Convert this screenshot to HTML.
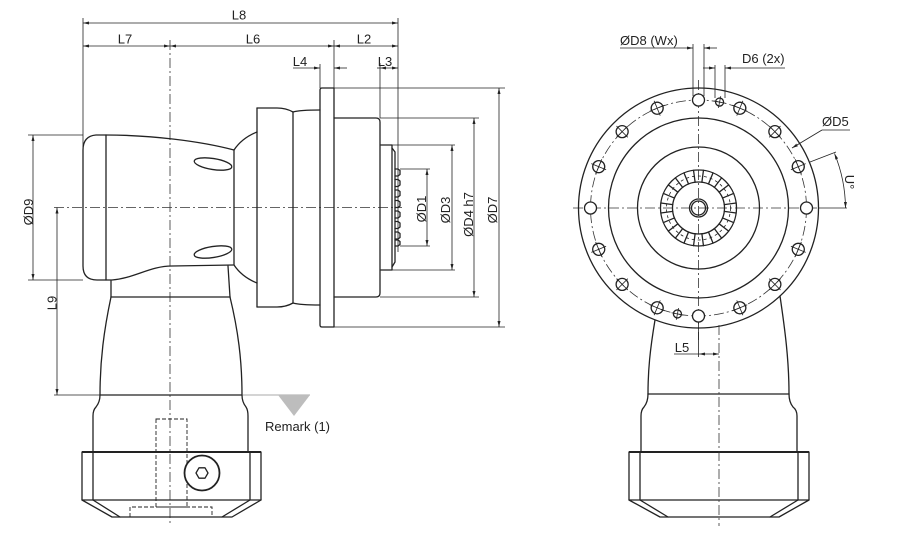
<!DOCTYPE html>
<html><head><meta charset="utf-8"><style>
html,body{margin:0;padding:0;background:#fff;}
svg{display:block;}
text{font-family:"Liberation Sans",Arial,sans-serif;font-size:13px;fill:#222;}
.o{fill:none;stroke:#222;stroke-width:1.3;stroke-linejoin:round;stroke-linecap:round;}
.t{fill:none;stroke:#222;stroke-width:0.8;}
.c{fill:none;stroke:#333;stroke-width:0.8;stroke-dasharray:10 3 2 3;}
.d{fill:none;stroke:#222;stroke-width:0.9;stroke-dasharray:4 2;}
.a{marker-start:url(#ar);marker-end:url(#ar);}
.e{marker-end:url(#ar);}
</style></head><body>
<svg width="900" height="538" viewBox="0 0 900 538" xmlns="http://www.w3.org/2000/svg">
<defs>
<marker id="ar" viewBox="0 0 6 3" refX="6" refY="1.5" markerWidth="6" markerHeight="3" markerUnits="userSpaceOnUse" orient="auto-start-reverse"><path d="M0,0 L6,1.5 L0,3 z" fill="#222"/></marker>
</defs>
<rect width="900" height="538" fill="#fff"/>

<!-- ===== LEFT VIEW ===== -->
<!-- dimension lines top -->
<line class="t a" x1="83" y1="23" x2="398" y2="23"/>
<text x="239" y="19.5" text-anchor="middle">L8</text>
<line class="t a" x1="83" y1="46" x2="170" y2="46"/>
<line class="t a" x1="170" y1="46" x2="334" y2="46"/>
<line class="t a" x1="334" y1="46" x2="398" y2="46"/>
<text x="125" y="43.5" text-anchor="middle">L7</text>
<text x="253" y="43.5" text-anchor="middle">L6</text>
<text x="364" y="43.5" text-anchor="middle">L2</text>
<line class="t e" x1="293" y1="68" x2="320" y2="68"/>
<line class="t e" x1="347" y1="68" x2="334" y2="68"/>
<text x="300" y="66" text-anchor="middle">L4</text>
<line class="t" x1="377" y1="68" x2="380" y2="68"/>
<line class="t a" x1="380" y1="68" x2="398" y2="68"/>
<text x="385" y="66" text-anchor="middle">L3</text>
<!-- extension lines -->
<line class="t" x1="83" y1="18" x2="83" y2="150"/>
<line class="t" x1="398" y1="18" x2="398" y2="252"/>
<line class="t" x1="334" y1="40" x2="334" y2="88"/>
<line class="t" x1="320" y1="64" x2="320" y2="88"/>
<line class="t" x1="380" y1="63" x2="380" y2="118"/>

<!-- centerlines -->
<line class="c" x1="54" y1="207.5" x2="402" y2="207.5"/>
<line class="c" x1="170" y1="40" x2="170" y2="524"/>

<!-- left body -->
<path class="o" d="M106,135 L96,135 Q83,136 83,150 L83,266 Q83,280 97,280 L112,280 C135,278 150,266 172,266 L233,265"/>
<path class="o" d="M106,135 C150,135 200,141 234,150"/>
<line class="o" x1="106" y1="135" x2="106" y2="280"/>
<line class="o" x1="234" y1="150" x2="234" y2="265"/>
<path class="o" d="M234,150 Q242,138 257,132"/>
<path class="o" d="M234,265 Q242,277 257,283"/>
<ellipse class="o" cx="213" cy="164" rx="19" ry="5.5" transform="rotate(9 213 164)"/>
<ellipse class="o" cx="213" cy="252" rx="19" ry="5.5" transform="rotate(-9 213 252)"/>
<!-- section 257-320 -->
<line class="o" x1="257" y1="108" x2="257" y2="307"/>
<path class="o" d="M257,108 L277,108 Q286,108 293,112 Q300,110 320,110"/>
<path class="o" d="M257,307 L277,307 Q286,307 293,303 Q300,305 320,305"/>
<line class="o" x1="293" y1="112" x2="293" y2="303"/>
<!-- flange -->
<path class="o" d="M322,88 L334,88 L334,327 L322,327 Q320,327 320,325 L320,90 Q320,88 322,88 Z"/>
<line class="t" x1="334" y1="88" x2="505" y2="88"/>
<line class="t" x1="334" y1="327" x2="505" y2="327"/>
<!-- part 334-380 -->
<path class="o" d="M334,118 L376,118 Q380,118 380,122 L380,293 Q380,297 376,297 L334,297"/>
<line class="t" x1="380" y1="118" x2="479" y2="118"/>
<line class="t" x1="380" y1="297" x2="479" y2="297"/>
<!-- pilot -->
<path class="o" d="M381,145 L392,145 L392,270 L381,270"/>
<path class="o" d="M392,148 L395,152 L395,262 L392,267"/>
<line class="t" x1="392" y1="145" x2="455" y2="145"/>
<line class="t" x1="392" y1="270" x2="455" y2="270"/>
<!-- teeth -->
<path class="o" stroke-width="1" d="M395,169 h3 l2,1.5 v4 l-2,1.5 h-3 M395,179.5 h3 l2,1.5 v4 l-2,1.5 h-3 M395,190 h3 l2,1.5 v4 l-2,1.5 h-3 M395,200.5 h3 l2,1.5 v4 l-2,1.5 h-3 M395,211 h3 l2,1.5 v4 l-2,1.5 h-3 M395,221.5 h3 l2,1.5 v4 l-2,1.5 h-3 M395,232 h3 l2,1.5 v4 l-2,1.5 h-3 M395,240 h3 l2,1.5 v3 l-2,1.5 h-3"/>
<line class="t" x1="400" y1="169" x2="430" y2="169"/>
<line class="t" x1="400" y1="246" x2="430" y2="246"/>
<!-- diameter dims -->
<line class="t a" x1="427" y1="169" x2="427" y2="246"/>
<line class="t a" x1="452" y1="145" x2="452" y2="270"/>
<line class="t a" x1="474" y1="118" x2="474" y2="297"/>
<line class="t a" x1="499" y1="88" x2="499" y2="327"/>
<text transform="translate(426,209) rotate(-90)" text-anchor="middle">ØD1</text>
<text transform="translate(450,210) rotate(-90)" text-anchor="middle">ØD3</text>
<text transform="translate(473,214.5) rotate(-90)" text-anchor="middle">ØD4 h7</text>
<text transform="translate(497,210) rotate(-90)" text-anchor="middle">ØD7</text>

<!-- D9 / L9 -->
<line class="t" x1="28" y1="135" x2="83" y2="135"/>
<line class="t" x1="28" y1="280" x2="83" y2="280"/>
<line class="t a" x1="33" y1="135" x2="33" y2="280"/>
<text transform="translate(33,212) rotate(-90)" text-anchor="middle">ØD9</text>
<line class="t a" x1="57" y1="207.5" x2="57" y2="395"/>
<text transform="translate(56.5,303) rotate(-90)" text-anchor="middle">L9</text>

<!-- vertical section -->
<line class="o" x1="111" y1="281" x2="111" y2="297"/>
<line class="o" x1="228" y1="266" x2="230" y2="297"/>
<line class="o" x1="111" y1="297" x2="230" y2="297"/>
<path class="o" d="M111,297 C104,330 100,360 100,395"/>
<path class="o" d="M230,297 C238,330 242,360 242,395"/>
<line class="t" x1="54" y1="395" x2="100" y2="395"/>
<line class="o" x1="100" y1="395" x2="242" y2="395"/>
<line x1="242" y1="395" x2="310" y2="395" stroke="#aaa" stroke-width="1"/>
<polygon points="278,395 310,395 294,416" fill="#bdbdbd"/>
<text x="265" y="431">Remark (1)</text>
<path class="o" d="M100,395 Q100,402 96,407 Q93,410 93,416 L93,452"/>
<path class="o" d="M242,395 Q242,402 246,407 Q248,410 248,416 L248,452"/>
<!-- clamp ring -->
<line x1="82" y1="452" x2="261" y2="452" stroke="#222" stroke-width="2"/>
<path class="o" d="M82,452 L82,500 L261,500 L261,452"/>
<line class="o" x1="93" y1="452" x2="93" y2="500"/>
<line class="o" x1="250" y1="452" x2="250" y2="500"/>
<path class="o" d="M82,500 L112,517 L232,517 L261,500"/>
<line class="o" x1="93" y1="500" x2="120" y2="517"/>
<line class="o" x1="250" y1="500" x2="222" y2="517"/>
<rect class="d" x="156" y="419" width="31" height="88"/>
<path class="d" d="M130,517 L130,507 L212,507 L212,517"/>
<circle cx="202" cy="473" r="17.5" fill="#fff" stroke="#222" stroke-width="1.8"/>
<polygon class="o" stroke-width="1" points="208,473 205,478.2 199,478.2 196,473 199,467.8 205,467.8"/>

<!-- ===== RIGHT VIEW ===== -->
<line class="c" x1="573" y1="208" x2="820" y2="208"/>
<line class="t" x1="818" y1="208" x2="847" y2="208"/>
<line class="c" x1="698.5" y1="80" x2="698.5" y2="340"/>
<line class="t" x1="698.5" y1="320" x2="698.5" y2="357"/>
<circle class="o" cx="698.5" cy="208" r="120"/>
<circle class="c" cx="698.5" cy="208" r="108"/>
<circle class="o" cx="698.5" cy="208" r="90"/>
<circle class="o" cx="698.5" cy="208" r="61"/>
<circle class="o" cx="698.5" cy="208" r="38"/>
<circle class="o" cx="698.5" cy="208" r="26"/>
<circle cx="698.5" cy="208" r="32" fill="none" stroke="#222" stroke-width="0.8" stroke-dasharray="3 3"/>
<circle class="o" cx="698.5" cy="208" r="9"/>
<circle class="o" cx="698.5" cy="208" r="7"/>
<g class="o" stroke-width="1">
<line x1="698.5" y1="170" x2="698.5" y2="182" transform="rotate(7.5 698.5 208)"/>
<line x1="698.5" y1="170" x2="698.5" y2="182" transform="rotate(22.5 698.5 208)"/>
<line x1="698.5" y1="170" x2="698.5" y2="182" transform="rotate(37.5 698.5 208)"/>
<line x1="698.5" y1="170" x2="698.5" y2="182" transform="rotate(52.5 698.5 208)"/>
<line x1="698.5" y1="170" x2="698.5" y2="182" transform="rotate(67.5 698.5 208)"/>
<line x1="698.5" y1="170" x2="698.5" y2="182" transform="rotate(82.5 698.5 208)"/>
<line x1="698.5" y1="170" x2="698.5" y2="182" transform="rotate(97.5 698.5 208)"/>
<line x1="698.5" y1="170" x2="698.5" y2="182" transform="rotate(112.5 698.5 208)"/>
<line x1="698.5" y1="170" x2="698.5" y2="182" transform="rotate(127.5 698.5 208)"/>
<line x1="698.5" y1="170" x2="698.5" y2="182" transform="rotate(142.5 698.5 208)"/>
<line x1="698.5" y1="170" x2="698.5" y2="182" transform="rotate(157.5 698.5 208)"/>
<line x1="698.5" y1="170" x2="698.5" y2="182" transform="rotate(172.5 698.5 208)"/>
<line x1="698.5" y1="170" x2="698.5" y2="182" transform="rotate(187.5 698.5 208)"/>
<line x1="698.5" y1="170" x2="698.5" y2="182" transform="rotate(202.5 698.5 208)"/>
<line x1="698.5" y1="170" x2="698.5" y2="182" transform="rotate(217.5 698.5 208)"/>
<line x1="698.5" y1="170" x2="698.5" y2="182" transform="rotate(232.5 698.5 208)"/>
<line x1="698.5" y1="170" x2="698.5" y2="182" transform="rotate(247.5 698.5 208)"/>
<line x1="698.5" y1="170" x2="698.5" y2="182" transform="rotate(262.5 698.5 208)"/>
<line x1="698.5" y1="170" x2="698.5" y2="182" transform="rotate(277.5 698.5 208)"/>
<line x1="698.5" y1="170" x2="698.5" y2="182" transform="rotate(292.5 698.5 208)"/>
<line x1="698.5" y1="170" x2="698.5" y2="182" transform="rotate(307.5 698.5 208)"/>
<line x1="698.5" y1="170" x2="698.5" y2="182" transform="rotate(322.5 698.5 208)"/>
<line x1="698.5" y1="170" x2="698.5" y2="182" transform="rotate(337.5 698.5 208)"/>
<line x1="698.5" y1="170" x2="698.5" y2="182" transform="rotate(352.5 698.5 208)"/>
</g>
<!-- plain holes -->
<g class="o" fill="#fff">
<circle cx="698.5" cy="100" r="6" fill="#fff"/>
<circle cx="806.5" cy="208" r="6" fill="#fff"/>
<circle cx="698.5" cy="316" r="6" fill="#fff"/>
<circle cx="590.5" cy="208" r="6" fill="#fff"/>
</g>
<!-- crossed holes -->
<g id="h1" transform="rotate(22.5 698.5 208)"><circle class="o" cx="698.5" cy="100" r="6" fill="#fff"/><line class="t" x1="698.5" y1="92" x2="698.5" y2="108"/><line class="t" x1="690.5" y1="100" x2="706.5" y2="100"/></g>
<g transform="rotate(45 698.5 208)"><circle class="o" cx="698.5" cy="100" r="6" fill="#fff"/><line class="t" x1="698.5" y1="92" x2="698.5" y2="108"/><line class="t" x1="690.5" y1="100" x2="706.5" y2="100"/></g>
<g transform="rotate(67.5 698.5 208)"><circle class="o" cx="698.5" cy="100" r="6" fill="#fff"/><line class="t" x1="698.5" y1="92" x2="698.5" y2="108"/><line class="t" x1="690.5" y1="100" x2="706.5" y2="100"/></g>
<g transform="rotate(112.5 698.5 208)"><circle class="o" cx="698.5" cy="100" r="6" fill="#fff"/><line class="t" x1="698.5" y1="92" x2="698.5" y2="108"/><line class="t" x1="690.5" y1="100" x2="706.5" y2="100"/></g>
<g transform="rotate(135 698.5 208)"><circle class="o" cx="698.5" cy="100" r="6" fill="#fff"/><line class="t" x1="698.5" y1="92" x2="698.5" y2="108"/><line class="t" x1="690.5" y1="100" x2="706.5" y2="100"/></g>
<g transform="rotate(157.5 698.5 208)"><circle class="o" cx="698.5" cy="100" r="6" fill="#fff"/><line class="t" x1="698.5" y1="92" x2="698.5" y2="108"/><line class="t" x1="690.5" y1="100" x2="706.5" y2="100"/></g>
<g transform="rotate(202.5 698.5 208)"><circle class="o" cx="698.5" cy="100" r="6" fill="#fff"/><line class="t" x1="698.5" y1="92" x2="698.5" y2="108"/><line class="t" x1="690.5" y1="100" x2="706.5" y2="100"/></g>
<g transform="rotate(225 698.5 208)"><circle class="o" cx="698.5" cy="100" r="6" fill="#fff"/><line class="t" x1="698.5" y1="92" x2="698.5" y2="108"/><line class="t" x1="690.5" y1="100" x2="706.5" y2="100"/></g>
<g transform="rotate(247.5 698.5 208)"><circle class="o" cx="698.5" cy="100" r="6" fill="#fff"/><line class="t" x1="698.5" y1="92" x2="698.5" y2="108"/><line class="t" x1="690.5" y1="100" x2="706.5" y2="100"/></g>
<g transform="rotate(292.5 698.5 208)"><circle class="o" cx="698.5" cy="100" r="6" fill="#fff"/><line class="t" x1="698.5" y1="92" x2="698.5" y2="108"/><line class="t" x1="690.5" y1="100" x2="706.5" y2="100"/></g>
<g transform="rotate(315 698.5 208)"><circle class="o" cx="698.5" cy="100" r="6" fill="#fff"/><line class="t" x1="698.5" y1="92" x2="698.5" y2="108"/><line class="t" x1="690.5" y1="100" x2="706.5" y2="100"/></g>
<g transform="rotate(337.5 698.5 208)"><circle class="o" cx="698.5" cy="100" r="6" fill="#fff"/><line class="t" x1="698.5" y1="92" x2="698.5" y2="108"/><line class="t" x1="690.5" y1="100" x2="706.5" y2="100"/></g>
<!-- small holes -->
<g transform="rotate(11.25 698.5 208)"><circle class="o" cx="698.5" cy="100" r="4" fill="#fff"/><line class="t" x1="698.5" y1="94" x2="698.5" y2="106"/><line class="t" x1="692.5" y1="100" x2="704.5" y2="100"/></g>
<g transform="rotate(191.25 698.5 208)"><circle class="o" cx="698.5" cy="100" r="4" fill="#fff"/><line class="t" x1="698.5" y1="94" x2="698.5" y2="106"/><line class="t" x1="692.5" y1="100" x2="704.5" y2="100"/></g>

<!-- D8 / D6 dims -->
<line class="t" x1="693" y1="44" x2="693" y2="96"/>
<line class="t" x1="704" y1="44" x2="704" y2="96"/>
<line class="t e" x1="620" y1="48" x2="693" y2="48"/>
<line class="t e" x1="717" y1="48" x2="704" y2="48"/>
<text x="620" y="45">ØD8 (Wx)</text>
<line class="t" x1="715" y1="65" x2="715" y2="98"/>
<line class="t" x1="725" y1="65" x2="725" y2="98"/>
<line class="t e" x1="703" y1="68" x2="715" y2="68"/>
<line class="t e" x1="785" y1="68" x2="725" y2="68"/>
<text x="742" y="63">D6 (2x)</text>
<!-- D5 -->
<polyline class="t" points="850,130 822,130"/>
<line class="t e" x1="822" y1="130" x2="792" y2="148"/>
<text x="822" y="126">ØD5</text>
<!-- U angle -->
<line class="t" x1="810" y1="162" x2="836" y2="152"/>
<path class="t a" d="M834.5,153.5 A147,147 0 0 1 845.5,208"/>
<text transform="translate(845,182) rotate(90)" text-anchor="middle">U°</text>

<!-- right body -->
<path class="o" d="M655,320 C650,350 648,370 648,394"/>
<path class="o" d="M780,296 C785,330 789,360 789,394"/>
<line class="o" x1="648" y1="394" x2="789" y2="394"/>
<path class="o" d="M648,394 Q648,402 644,407 Q641,410 641,416 L641,452"/>
<path class="o" d="M789,394 Q789,402 793,407 Q797,410 797,416 L797,452"/>
<line x1="629" y1="452" x2="809" y2="452" stroke="#222" stroke-width="2"/>
<path class="o" d="M629,452 L629,500 L809,500 L809,452"/>
<line class="o" x1="640" y1="452" x2="640" y2="500"/>
<line class="o" x1="798" y1="452" x2="798" y2="500"/>
<path class="o" d="M629,500 L660,517 L779,517 L809,500"/>
<line class="o" x1="640" y1="500" x2="668" y2="517"/>
<line class="o" x1="798" y1="500" x2="770" y2="517"/>
<line class="c" x1="719" y1="325" x2="719" y2="526"/>
<!-- L5 -->
<line class="t" x1="674" y1="354" x2="699" y2="354"/>
<line class="t a" x1="699" y1="354" x2="719" y2="354"/>
<text x="682" y="352" text-anchor="middle">L5</text>
</svg>
</body></html>
